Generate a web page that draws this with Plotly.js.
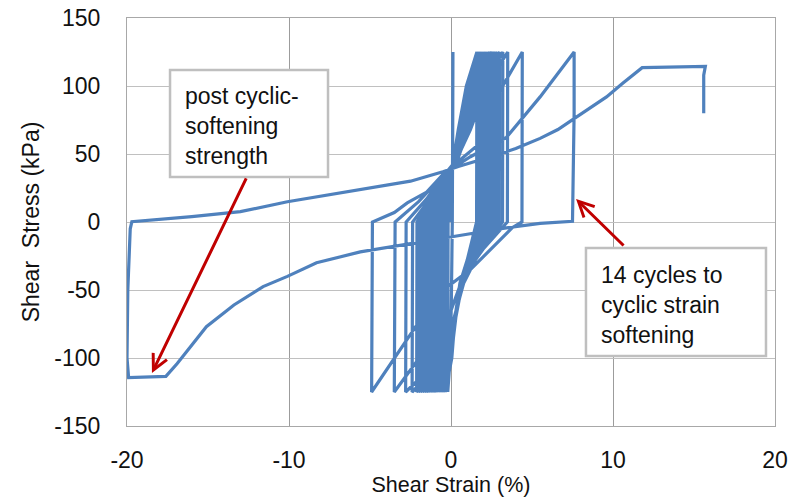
<!DOCTYPE html>
<html>
<head>
<meta charset="utf-8">
<script src="https://cdn.plot.ly/plotly-3.0.1.min.js"></script>
<style>html,body{margin:0;padding:0;background:#fff;}#chart{width:802px;height:499px;}</style>
</head>
<body>
<div id="chart"></div>
<script>
// Cyclic loading phase: shear strain (%) and shear stress (kPa)
var cyclicStrain = [
  0, 0.05, 0.1, 0.12, 0.11, 0.08, 0.02, -0.05, -0.2,
  -0.18, -0.05, 0.1, 0.45, 0.95, 1.6, 1.58, 1.0, 0.55, 0.25, 0.05, -0.35,
  -0.33, -0.15, 0.12, 0.5, 1.0, 1.68, 1.66, 1.03, 0.57, 0.26, 0.04, -0.5,
  -0.48, -0.25, 0.14, 0.55, 1.05, 1.75, 1.73, 1.06, 0.59, 0.27, 0.03, -0.62,
  -0.6, -0.32, 0.16, 0.6, 1.1, 1.82, 1.8, 1.09, 0.61, 0.28, 0.02, -0.75,
  -0.73, -0.4, 0.18, 0.65, 1.15, 1.9, 1.88, 1.12, 0.63, 0.29, 0.01, -0.88,
  -0.86, -0.45, 0.2, 0.7, 1.2, 1.98, 1.96, 1.15, 0.65, 0.3, 0.0, -1.0,
  -0.98, -0.5, 0.22, 0.75, 1.26, 2.06, 2.04, 1.18, 0.67, 0.3, -0.02, -1.12,
  -1.1, -0.55, 0.24, 0.8, 1.32, 2.14, 2.12, 1.21, 0.69, 0.3, -0.04, -1.25,
  -1.23, -0.58, 0.26, 0.84, 1.38, 2.22, 2.2, 1.24, 0.7, 0.3, -0.06, -1.38,
  -1.36, -0.6, 0.28, 0.88, 1.44, 2.3, 2.28, 1.27, 0.71, 0.29, -0.08, -1.5,
  -1.48, -0.62, 0.3, 0.92, 1.5, 2.4, 2.38, 1.3, 0.72, 0.28, -0.1, -1.62,
  -1.6, -0.64, 0.3, 0.96, 1.56, 2.5, 2.48, 1.33, 0.73, 0.27, -0.12, -1.75,
  -1.73, -0.66, 0.3, 1.0, 1.62, 2.6, 2.58, 1.36, 0.74, 0.26, -0.14, -1.88,
  -1.86, -0.68, 0.3, 1.04, 1.68, 2.72, 2.7, 1.39, 0.75, 0.25, -0.16, -2.0,
  -1.98, -0.7, 0.28, 1.08, 1.74, 2.85, 2.83, 1.42, 0.76, 0.24, -0.18, -2.12,
  -2.1, -1.2, -0.6, 0.25, 1.0, 1.8, 3.0, 2.98, 1.45, 0.77, 0.22, -0.3, -2.4,
  -2.37, -1.3, -0.6, 0.3, 1.1, 2.0, 3.2, 3.18, 1.5, 0.78, 0.2, -0.6, -2.8,
  -2.77, -1.5, -0.6, 0.3, 1.2, 2.2, 3.5, 3.48, 1.6, 0.7, 0.0, -1.9, -3.5,
  -3.45, -2.0, -0.6, 0.5, 2.0, 3.0, 4.4, 4.38, 3.8, 1.2, -0.25, -1.9, -4.9
];
var cyclicStress = [
  0, 20, 43, 125, 60, 0, -60, -100, -125,
  0, 28, 42, 68, 100, 125, 0, -28, -45, -70, -100, -125,
  0, 28, 42, 68, 100, 125, 0, -28, -45, -70, -100, -125,
  0, 28, 42, 68, 100, 125, 0, -28, -45, -70, -100, -125,
  0, 28, 42, 68, 100, 125, 0, -28, -45, -70, -100, -125,
  0, 28, 42, 68, 100, 125, 0, -28, -45, -70, -100, -125,
  0, 28, 42, 68, 100, 125, 0, -28, -45, -70, -100, -125,
  0, 28, 42, 68, 100, 125, 0, -28, -45, -70, -100, -125,
  0, 28, 42, 68, 100, 125, 0, -28, -45, -70, -100, -125,
  0, 28, 42, 68, 100, 125, 0, -28, -45, -70, -100, -125,
  0, 28, 42, 68, 100, 125, 0, -28, -45, -70, -100, -125,
  0, 28, 42, 68, 100, 125, 0, -28, -45, -70, -100, -125,
  0, 28, 42, 68, 100, 125, 0, -28, -45, -70, -100, -125,
  0, 28, 42, 68, 100, 125, 0, -28, -45, -70, -100, -125,
  0, 28, 42, 68, 100, 125, 0, -28, -45, -70, -100, -125,
  0, 28, 42, 68, 100, 125, 0, -28, -45, -70, -100, -125,
  0, 17, 29, 43, 68, 100, 125, 0, -28, -45, -70, -100, -125,
  0, 17, 30, 44, 68, 100, 125, 0, -28, -45, -70, -100, -125,
  0, 17, 32, 45, 68, 100, 125, 0, -25, -42, -65, -99, -125,
  0, 15, 33, 45, 60, 96, 125, 0, -4, -35, -48, -72, -125
];
// Final softened cycle and post-cyclic monotonic loading
var postStrain = [
  -4.85, -3.5, -2.7, -1.5, -0.5, 1.2, 3.4, 5.5, 7.6, 7.6, 7.55, 7.5,
  5.5, 3.0, 1.0, 0.0, -2.0, -4.0, -5.6, -8.3, -10.1, -11.6, -13.4, -15.1, -16.1, -16.9, -17.6, -19.9,
  -20.0, -19.95, -19.8, -19.7,
  -16.0, -13.0, -10.1, -7.5, -5.6, -2.5, -0.5, 0.5, 2.6, 4.0, 5.5, 6.6, 7.6, 8.6, 9.6, 10.6, 11.3, 11.8,
  15.7, 15.6, 15.6
];
var postStress = [
  0, 7, 14, 22, 35, 48, 62, 92, 125, 80, 30, 0.5,
  -1, -5, -9, -11, -15, -19, -22, -30, -40, -47.5, -61, -77, -92, -104, -113.5, -114.5,
  -100, -50, -5, 0.2,
  4, 7.6, 14.9, 20, 23.5, 30, 37, 41, 48.5, 54, 61.5, 68, 76, 84, 92, 102, 109, 113.5,
  114.5, 108, 80
];
var xTicks = [-20, -10, 0, 10, 20];
var yTicks = [-150, -100, -50, 0, 50, 100, 150];
var xTitle = 'Shear Strain (%)';
var yTitle = 'Shear&nbsp; Stress (kPa)';
var note1 = 'post cyclic-<br>softening<br>strength';
var note2 = '14 cycles to<br>cyclic strain<br>softening';

var font = 'Liberation Sans, Arial, sans-serif';
var trace = {
  x: cyclicStrain.concat(postStrain),
  y: cyclicStress.concat(postStress),
  type: 'scatter', mode: 'lines',
  line: {color: '#4F81BD', width: 3.2},
  hoverinfo: 'skip'
};
var layout = {
  width: 802, height: 499,
  margin: {l: 127, r: 27, t: 18, b: 73},
  paper_bgcolor: '#ffffff', plot_bgcolor: '#ffffff',
  showlegend: false,
  font: {family: font, size: 23, color: '#111111'},
  xaxis: {
    range: [-20, 20], tickvals: xTicks, ticktext: xTicks.map(String),
    showgrid: true, gridcolor: '#9C9C9C', gridwidth: 1,
    zeroline: false, showline: true, mirror: true, linecolor: '#A8A8A8', linewidth: 1,
    ticks: '', ticklabelstandoff: 13,
    tickfont: {family: font, size: 23, color: '#111111'},
    title: {text: xTitle, standoff: 4, font: {family: font, size: 21.5, color: '#111111'}}
  },
  yaxis: {
    range: [-150, 150], tickvals: yTicks, ticktext: yTicks.map(String),
    showgrid: true, gridcolor: '#C0C0C0', gridwidth: 1,
    zeroline: false, showline: true, mirror: true, linecolor: '#A8A8A8', linewidth: 1,
    ticks: '', ticklabelstandoff: 21,
    tickfont: {family: font, size: 23, color: '#111111'},
    title: {text: yTitle, standoff: 8, font: {family: font, size: 23, color: '#111111'}}
  },
  shapes: [
    {type: 'rect', xref: 'paper', yref: 'paper', x0: 0.0664, x1: 0.3102, y0: 0.6103, y1: 0.8725,
     line: {color: '#BFBFBF', width: 2.5}, fillcolor: '#ffffff', layer: 'above'},
    {type: 'rect', xref: 'paper', yref: 'paper', x0: 0.7083, x1: 0.9861, y0: 0.1716, y1: 0.4363,
     line: {color: '#BFBFBF', width: 2.5}, fillcolor: '#ffffff', layer: 'above'}
  ],
  annotations: [
    {xref: 'paper', yref: 'paper', x: 0.0865, y: 0.735, xanchor: 'left', yanchor: 'middle',
     text: note1, showarrow: false, align: 'left', font: {family: font, size: 23, color: '#111111'}},
    {xref: 'paper', yref: 'paper', x: 0.728, y: 0.2966, xanchor: 'left', yanchor: 'middle',
     text: note2, showarrow: false, align: 'left', font: {family: font, size: 23, color: '#111111'}},
    {xref: 'x', yref: 'y', x: -18.46, y: -111, ax: 95, ay: -196, text: '', showarrow: true,
     arrowcolor: '#C00000', arrowwidth: 3, arrowhead: 5, arrowsize: 1, standoff: 0},
    {xref: 'x', yref: 'y', x: 7.72, y: 16.9, ax: 49, ay: 48, text: '', showarrow: true,
     arrowcolor: '#C00000', arrowwidth: 3, arrowhead: 5, arrowsize: 1, standoff: 0}
  ]
};
Plotly.newPlot('chart', [trace], layout, {displayModeBar: false, staticPlot: true});
</script>
</body>
</html>
